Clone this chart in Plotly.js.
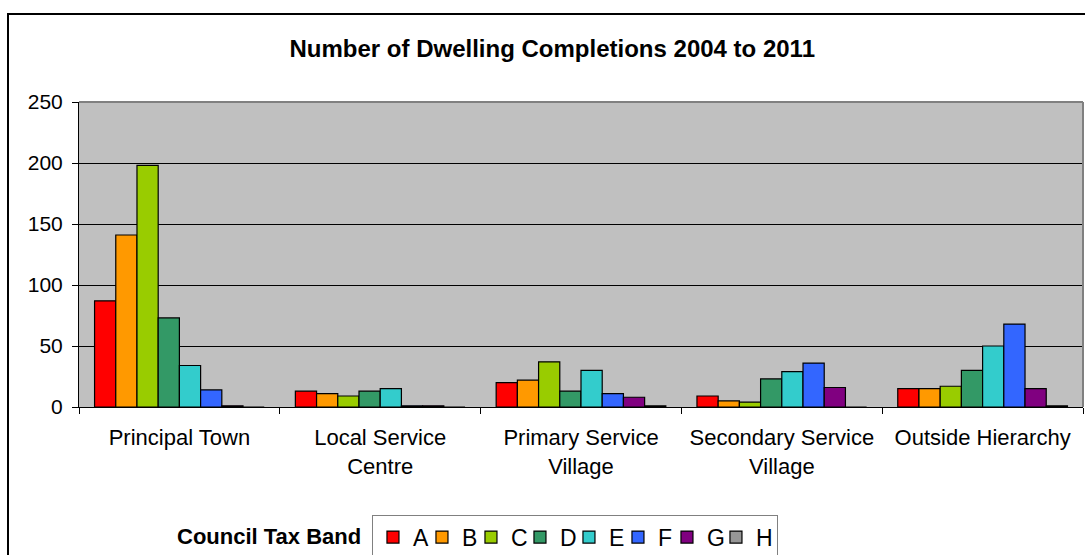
<!DOCTYPE html>
<html>
<head>
<meta charset="utf-8">
<script src="https://cdn.plot.ly/plotly-3.0.1.min.js"></script>
<style>
  html, body { margin: 0; padding: 0; background: #fff; overflow: hidden; }
  #chart { width: 1085px; height: 555px; position: absolute; left: 0; top: 0; }
  #frame { position: absolute; left: 7px; top: 13px; width: 1200px; height: 700px;
           border: 2px solid #000; pointer-events: none; }
</style>
</head>
<body>
<div id="chart"></div>
<div id="frame"></div>
<script>
// ---- data ----
var categories = ["Principal Town", "Local Service<br>Centre", "Primary Service<br>Village",
                  "Secondary Service<br>Village", "Outside Hierarchy"];
var bands = ["A", "B", "C", "D", "E", "F", "G", "H"];
var bandA = [87, 13, 20, 9, 15];
var bandB = [141, 11, 22, 5, 15];
var bandC = [198, 9, 37, 4, 17];
var bandD = [73, 13, 13, 23, 30];
var bandE = [34, 15, 30, 29, 50];
var bandF = [14, 1, 11, 36, 68];
var bandG = [1, 1, 8, 16, 15];
var bandH = [0, 0, 1, 0, 1];
var yTicks = [0, 50, 100, 150, 200, 250];

var seriesValues = [bandA, bandB, bandC, bandD, bandE, bandF, bandG, bandH];
var colors = ["#FF0000", "#FF9900", "#99CC00", "#339966", "#33CCCC", "#3366FF", "#800080", "#969696"];

var font = "Liberation Sans, Arial, Helvetica, sans-serif";

var traces = bands.map(function (b, i) {
  return {
    type: "bar",
    name: b,
    x: categories,
    y: seriesValues[i],
    marker: { color: colors[i], line: { color: "#000", width: 1.2 } },
    legendwidth: (i === bands.length - 1) ? 16 : 4,
    hoverinfo: "x+y+name"
  };
});

var layout = {
  width: 1085,
  height: 555,
  margin: { l: 79, r: 2, t: 102, b: 148, autoexpand: false },
  paper_bgcolor: "rgba(0,0,0,0)",
  plot_bgcolor: "#C0C0C0",
  barmode: "group",
  bargap: 0.155,
  bargroupgap: 0,
  font: { family: font, size: 21, color: "#000" },
  title: {
    text: "Number of Dwelling Completions 2004 to 2011",
    font: { family: font, size: 24, weight: "bold", color: "#000" },
    x: 0.509, xanchor: "center",
    y: 0.912, yanchor: "middle"
  },
  xaxis: {
    type: "category",
    tickson: "boundaries",
    ticks: "outside",
    ticklen: 6,
    tickcolor: "#000",
    showline: true,
    linecolor: "#000",
    linewidth: 1,
    showgrid: false,
    automargin: false,
    ticklabelstandoff: 11,
    tickfont: { family: font, size: 22, color: "#000" },
    fixedrange: true
  },
  yaxis: {
    range: [0, 250],
    tickvals: yTicks,
    ticktext: yTicks.map(String),
    ticks: "outside",
    ticklen: 6,
    tickcolor: "#000",
    showline: true,
    linecolor: "#000",
    linewidth: 1,
    showgrid: true,
    gridcolor: "#000",
    gridwidth: 1,
    zeroline: false,
    automargin: false,
    ticklabelstandoff: 5,
    tickfont: { family: font, size: 21, color: "#000" },
    fixedrange: true
  },
  showlegend: true,
  legend: {
    orientation: "h",
    x: 0.2918, xanchor: "left",
    y: -0.353, yanchor: "top",
    bordercolor: "#808080",
    borderwidth: 1,
    bgcolor: "#fff",
    font: { family: font, size: 23, color: "#000" },
    entrywidthmode: "pixels",
    traceorder: "normal",
    itemclick: false,
    itemdoubleclick: false
  },
  annotations: [{
    text: "Council Tax Band",
    xref: "paper", yref: "paper",
    x: 0.2829, xanchor: "right",
    y: -0.425, yanchor: "middle",
    showarrow: false,
    font: { family: font, size: 22, weight: "bold", color: "#000" }
  }],
  shapes: [
    { type: "line", xref: "paper", yref: "paper", x0: 0, x1: 1, y0: 1, y1: 1,
      line: { color: "#808080", width: 2 }, layer: "above" },
    { type: "line", xref: "paper", yref: "paper", x0: 1, x1: 1, y0: 0, y1: 1,
      line: { color: "#808080", width: 2 }, layer: "above" }
  ]
};

Plotly.newPlot("chart", traces, layout, { displayModeBar: false, staticPlot: false });
</script>
</body>
</html>
